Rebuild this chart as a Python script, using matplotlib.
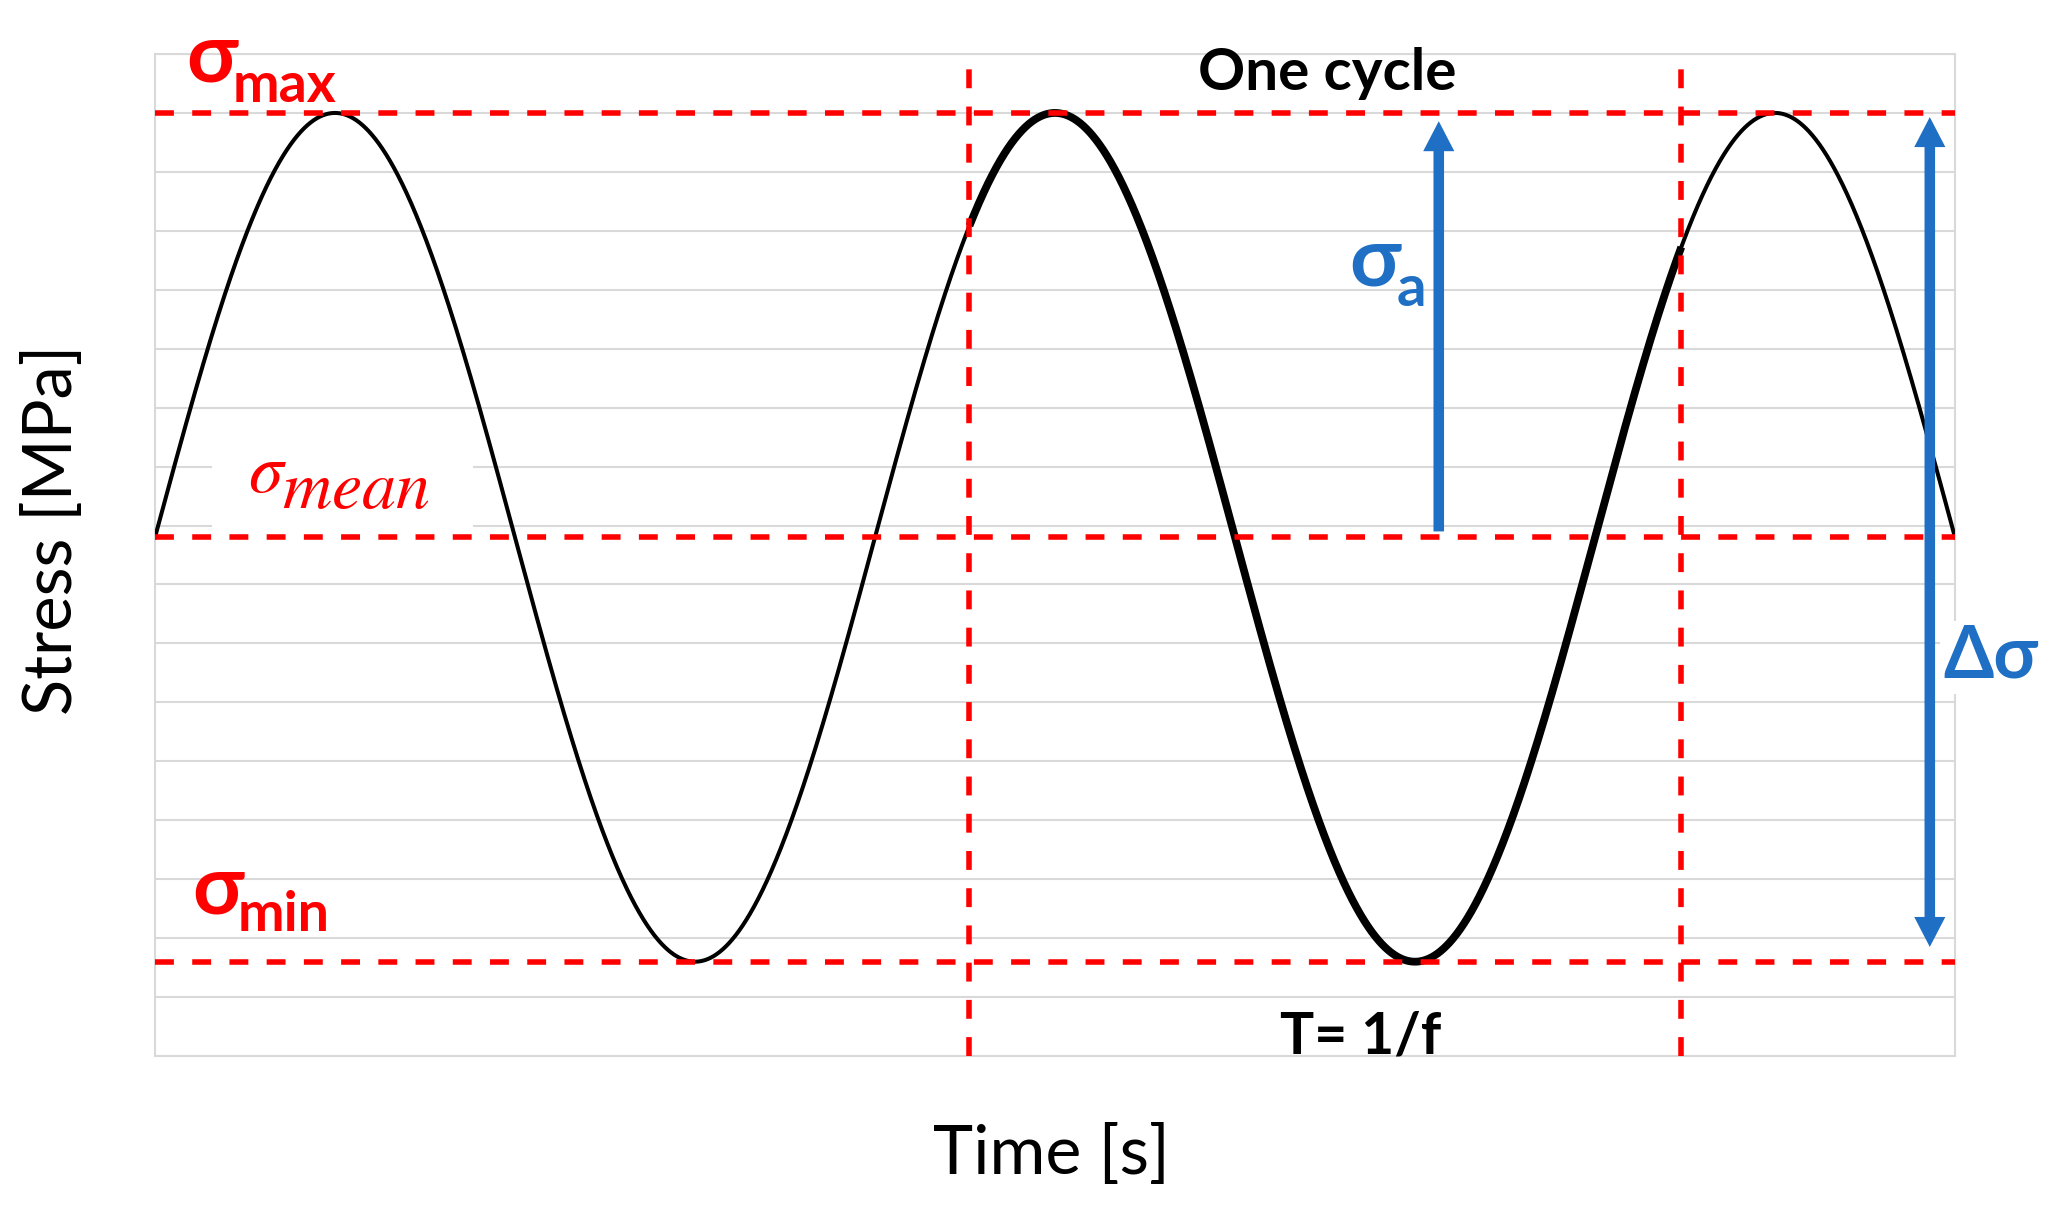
import numpy as np
import matplotlib.pyplot as plt
from matplotlib.patches import Rectangle

plt.rcParams['mathtext.fontset'] = 'stix'

W, H = 2057, 1223

# stress levels (grid units) and timing (in periods)
sigma_max = 16.0
sigma_min = 1.6
period = 1.0
duration = 2.5
cycle_start = [1.131, 2.120]          # dashed lines around "one cycle"
amp_arrow = [1.783, 8.9, 15.86]       # x, from, to
range_arrow = [2.465, 15.93, 1.85]    # x, top, bottom

sigma_mean = (sigma_max + sigma_min) / 2
sigma_a = (sigma_max - sigma_min) / 2

red = '#ff0000'
blue = '#1f6fc5'
grid_c = '#d9d9d9'
fam = ['Lato', 'DejaVu Sans']


def fx(x):
    return x / W


def fy(y):
    return 1 - y / H


fig = plt.figure(figsize=(W / 100, H / 100), dpi=100)
ax = fig.add_axes([fx(155), fy(1056), 1800 / W, 1002 / H])
ax.set_xlim(0, duration)
ax.set_ylim(0, 17)
ax.set_yticks(np.arange(0, 18))
ax.set_xticks([])
ax.tick_params(left=False, labelleft=False)
ax.grid(axis='y', color=grid_c, lw=1.5)
ax.set_axisbelow(True)
for s in ax.spines.values():
    s.set_color(grid_c)
    s.set_linewidth(1.5)

# white box behind sigma_mean label
ax.add_patch(Rectangle((0.079, 8.95), 0.363, 1.45, facecolor='white',
                       edgecolor='none', zorder=1))

t = np.linspace(0, duration, 3000)
stress = sigma_mean + sigma_a * np.sin(2 * np.pi * t / period)
ax.plot(t, stress, color='black', lw=2.9, zorder=3)
m = (t >= cycle_start[0]) & (t <= cycle_start[1])
ax.plot(t[m], stress[m], color='black', lw=5.6, zorder=3,
        solid_capstyle='butt')

for lvl in [sigma_max, sigma_mean, sigma_min]:
    ax.axhline(lvl, color=red, lw=4, dashes=(3.4, 3.3), zorder=4)
for xv in cycle_start:
    ax.axvline(xv, color=red, lw=4, dashes=(3.4, 3.3), zorder=4)

style = 'simple,head_length=1.08,head_width=1.12,tail_width=0.38'
ax.annotate('', xy=(amp_arrow[0], amp_arrow[2]),
            xytext=(amp_arrow[0], amp_arrow[1]),
            arrowprops=dict(arrowstyle=style, mutation_scale=20, color=blue,
                            lw=0, shrinkA=0, shrinkB=0), zorder=5)
mid = (range_arrow[1] + range_arrow[2]) / 2
for end in range_arrow[1:]:
    ax.annotate('', xy=(range_arrow[0], end), xytext=(range_arrow[0], mid),
                arrowprops=dict(arrowstyle=style, mutation_scale=20,
                                color=blue, lw=0, shrinkA=0, shrinkB=0),
                zorder=5)

# labels
big = dict(family=fam, fontweight='bold', va='baseline', ha='left')
fig.text(fx(186), fy(82), 'σ', color=red, fontsize=60, **big)
fig.text(fx(233), fy(102), 'max', color=red, fontsize=40, **big)
fig.text(fx(192), fy(913), 'σ', color=red, fontsize=60, **big)
fig.text(fx(238), fy(931), 'min', color=red, fontsize=40, **big)
fig.text(fx(1349), fy(285), 'σ', color=blue, fontsize=60, **big)
fig.text(fx(1397), fy(306), 'a', color=blue, fontsize=42, **big)
fig.text(fx(1943), fy(678), 'Δσ', color=blue, fontsize=52,
         bbox=dict(facecolor='white', edgecolor='none', pad=2), **big)
fig.text(fx(1198), fy(90), 'One cycle', color='black', fontsize=42, **big)
fig.text(fx(1280), fy(1053), 'T= 1/f', color='black', fontsize=41, **big)

fig.text(fx(248), fy(492), r'$\sigma$', color=red, fontsize=50,
         va='baseline', ha='left')
fig.text(fx(282), fy(508), r'$mean$', color=red, fontsize=49,
         va='baseline', ha='left')

fig.text(fx(1051), fy(1174), 'Time [s]', family=fam, fontsize=49,
         ha='center', va='baseline')
fig.text(fx(53), fy(530), 'Stress [MPa]', family=fam, fontsize=48,
         rotation=90, ha='center', va='center')

fig.savefig('out.png', dpi=100, facecolor='white')
